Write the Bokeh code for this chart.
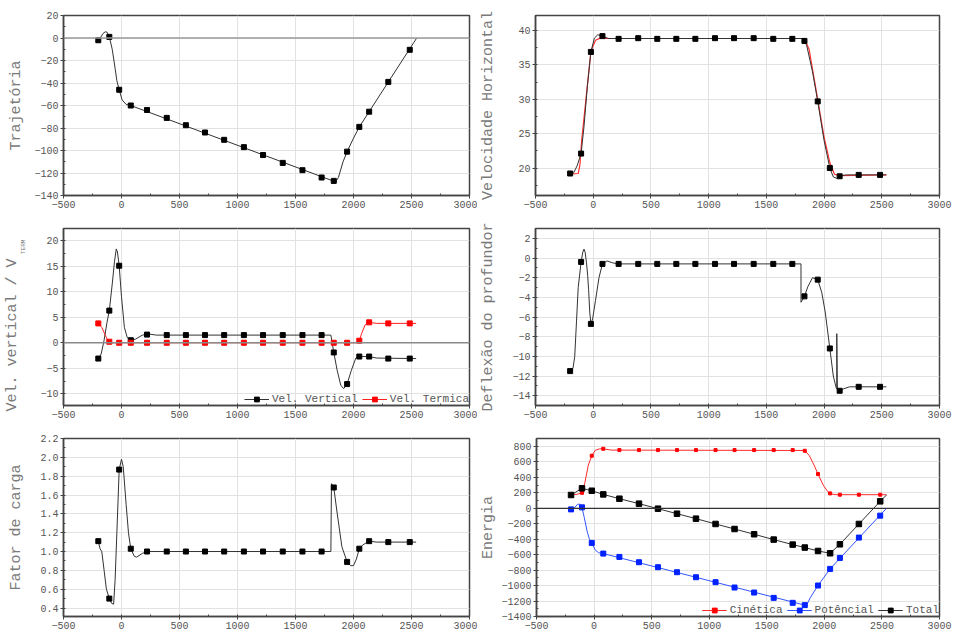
from bokeh.plotting import figure
from bokeh.models import (Range1d, SingleIntervalTicker, Span, LinearAxis,
                          FixedTicker, PrintfTickFormatter)
from bokeh.layouts import column, row
from bokeh.embed import file_html
from bokeh.resources import INLINE

FONT = "Liberation Mono"

# ---------------- data ----------------
x_pts = [-200, -105, -20, 80, 220, 390, 555, 720, 885, 1055, 1220, 1390,
         1560, 1725, 1830, 1945, 2050, 2135, 2300, 2485]

# Trajetoria
traj = [-2, 1, -46, -60, -64, -71, -77.5, -84, -90.5, -97, -104, -111,
        -117.5, -124, -127, -101, -79, -65.5, -39, -10.5]
traj_cx = [-200, -180, -160, -140, -125, -105, -80, -55, -40, -20, 5, 40, 80,
           1830, 1845, 1870, 1910, 1945, 2000, 2050, 2545]
traj_cy = [-2, 0.5, 4, 5.5, 5.2, 1, -10, -27, -38, -46, -55, -59, -60,
           -127.3, -128, -124, -110, -101, -89, -79, 0]

# Velocidade horizontal
velh = [19.2, 22.1, 36.9, 39.2, 38.8, 38.9, 38.8, 38.8, 38.8, 38.9, 38.9,
        38.9, 38.8, 38.8, 38.5, 29.7, 20.0, 18.8, 19.0, 19.0]
velh_cx = [-200, -170, -140, -105, -80, -50, -20, 10, 40, 80, 130, 1820, 1850,
           1900, 1945, 2000, 2050, 2080, 2110, 2140, 2200, 2540]
velh_cy = [19.2, 19.3, 20.3, 22.1, 26, 32, 36.9, 38.9, 39.4, 39.2, 38.85,
           38.85, 37.8, 34, 29.7, 24, 20, 18.7, 18.5, 18.9, 19.0, 19.0]
velh_red_cx = [-200, -130, -115, -100, -60, -20, 20, 60, 150, 1830, 1870,
               1950, 2000, 2050, 2090, 2130, 2540]
velh_red_cy = [19.1, 19.2, 20.5, 24, 30.5, 37, 38.6, 38.9, 38.85, 38.85, 37.3,
               29.5, 24.5, 20.8, 19.1, 18.9, 19.0]

# Velocidade vertical / termica
velv = [-3.1, 6.3, 15.1, 0.5, 1.6, 1.5, 1.5, 1.5, 1.5, 1.5, 1.5, 1.5, 1.5,
        1.5, -1.9, -8.1, -2.7, -2.7, -3.1, -3.1]
velv_cx = [-200, -175, -150, -125, -105, -80, -60, -45, -35, -20, 0, 25, 50,
           80, 120, 180, 240, 300, 1790, 1805, 1830, 1860, 1890, 1915, 1945,
           1980, 2020, 2050, 2135, 2200, 2540]
velv_cy = [-3.1, -2.2, 0.5, 4, 6.3, 11.5, 16, 18.4, 17.8, 15.1, 9, 3, 1, 0.5,
           0.7, 1.5, 1.7, 1.5, 1.5, 1.5, -1.9, -5.5, -8.3, -9.0, -8.1, -5.5,
           -3.0, -2.7, -2.7, -3.0, -3.1]
velt = [3.8, 0.2, 0, 0, 0, 0, 0, 0, 0, 0, 0, 0, 0, 0, 0, 0, 0.4, 4.0, 3.8, 3.8]
velt_cx = [-200, -170, -140, -120, -105, -80, 2020, 2050, 2070, 2100, 2135,
           2200, 2540]
velt_cy = [3.8, 3.0, 1.5, 0.5, 0.2, 0, 0, 0.4, 1.8, 3.5, 4.0, 3.8, 3.8]

# Deflexao do profundor
defl = [-11.5, -0.4, -6.7, -0.6, -0.6, -0.6, -0.6, -0.6, -0.6, -0.6, -0.6,
        -0.6, -0.6, -0.6, -3.9, -2.2, -9.2, -13.5, -13.1, -13.1]
defl_cx = [-200, -175, -160, -145, -130, -105, -90, -80, -70, -58, -48, -40,
           -30, -20, -5, 20, 50, 80, 120, 170, 220, 1800, 1800, 1830, 1860,
           1900, 1945, 1980, 2010, 2050, 2080, 2105, 2110, 2110, 2115, 2135,
           2170, 2220, 2300, 2540]
defl_cy = [-11.5, -11.2, -10, -6.5, -3, -0.4, 0.6, 0.9, 0.6, -0.5, -1.8, -3.2,
           -5.5, -6.7, -6.2, -4.3, -2.0, -0.6, -0.3, -0.5, -0.6, -0.6, -4.5,
           -3.9, -2.9, -2.0, -2.2, -3.5, -5.5, -9.2, -12, -13.2, -13.3, -7.7,
           -13.3, -13.5, -13.3, -13.1, -13.1, -13.1]

# Fator de carga
carga = [1.11, 0.50, 1.87, 1.03, 1.0, 1.0, 1.0, 1.0, 1.0, 1.0, 1.0, 1.0, 1.0,
         1.0, 1.68, 0.89, 1.03, 1.11, 1.10, 1.10]
carga_cx = [-200, -185, -170, -150, -130, -105, -85, -68, -55, -40, -20, 0,
            15, 40, 60, 80, 110, 130, 180, 220, 1805, 1810, 1830, 1860, 1900,
            1945, 1975, 2000, 2025, 2050, 2080, 2135, 2200, 2540]
carga_cy = [1.11, 1.03, 1.0, 0.8, 0.6, 0.5, 0.45, 0.44, 0.7, 1.2, 1.87, 1.98,
            1.9, 1.5, 1.2, 1.03, 0.95, 0.94, 0.98, 1.0, 1.0, 1.72, 1.68, 1.4,
            1.05, 0.89, 0.85, 0.85, 0.92, 1.03, 1.07, 1.11, 1.10, 1.10]

# Energia
cin = [176, 200, 680, 770, 753, 753, 753, 753, 753, 753, 753, 753, 753, 753,
       744, 443, 193, 176, 176, 176]
cin_cx = [-200, -150, -105, -80, -50, -20, 10, 50, 80, 150, 1830, 1870, 1910,
          1945, 1990, 2030, 2060, 2100, 2540]
cin_cy = [176, 180, 200, 330, 560, 680, 750, 770, 768, 753, 748, 680, 560,
          443, 300, 215, 185, 176, 176]
pot = [-14, 12, -448, -586, -629, -698, -762, -827, -892, -956, -1025, -1090,
       -1159, -1223, -1253, -999, -784, -642, -379, -95]
pot_cx = [-200, -170, -145, -125, -105, -85, -60, -40, -20, 10, 40, 80, 1830,
          1850, 1880, 1945, 2050, 2540]
pot_cy = [-14, 5, 50, 55, 12, -120, -300, -400, -448, -540, -575, -586,
          -1253, -1240, -1150, -999, -784, 0]
tot = [172, 258, 227, 180, 124, 60, -5, -70, -134, -203, -268, -336, -405,
       -470, -508, -552, -582, -466, -203, 90]
tot_end_x = [2540]
tot_end_y = [172]

# ---------------- helpers ----------------
TICK_COLOR = "#555555"
LABEL_COLOR = "#7a7a7a"
NBSP = "\u00a0"


def label_style(ax, text, size, standoff):
    ax.axis_label = text
    ax.axis_label_text_font = FONT
    ax.axis_label_text_font_size = size
    ax.axis_label_text_font_style = "normal"
    ax.axis_label_text_color = LABEL_COLOR
    ax.axis_label_standoff = standoff


def make_fig(width, height, left, right, top, bottom, ylo, yhi, yint,
             ylabel, standoff):
    p = figure(width=width, height=height, output_backend="svg",
               toolbar_location=None, x_range=Range1d(-500, 3000),
               y_range=Range1d(ylo, yhi),
               min_border_left=left, min_border_right=right,
               min_border_top=top, min_border_bottom=bottom)
    p.outline_line_color = "#444444"
    p.outline_line_width = 1.5
    p.xaxis.ticker = SingleIntervalTicker(interval=500, num_minor_ticks=2)
    p.yaxis.ticker = SingleIntervalTicker(interval=yint, num_minor_ticks=2)
    for ax in (p.xaxis, p.yaxis):
        ax.axis_line_color = "#444444"
        ax.axis_line_width = 1.5
        ax.major_tick_line_color = "#444444"
        ax.minor_tick_line_color = "#444444"
        ax.major_tick_out = 3
        ax.major_tick_in = 0
        ax.minor_tick_out = 0
        ax.minor_tick_in = 2
        ax.major_label_standoff = 2
        ax.major_label_text_font = FONT
        ax.major_label_text_font_size = "10px"
        ax.major_label_text_color = TICK_COLOR
    if ylabel:
        label_style(p.yaxis[0], ylabel, "15px", standoff)
    p.xgrid.grid_line_color = "#e2e2e2"
    p.ygrid.grid_line_color = "#e2e2e2"
    return p


def style_legend(p):
    lg = p.legend[0]
    lg.location = "bottom_right"
    lg.orientation = "horizontal"
    lg.background_fill_alpha = 0
    lg.border_line_alpha = 0
    lg.label_text_font = FONT
    lg.label_text_font_size = "11px"
    lg.label_text_color = "#555555"
    lg.glyph_width = 25
    lg.glyph_height = 12
    lg.label_height = 12
    lg.label_standoff = 3
    lg.spacing = 4
    lg.padding = 0
    lg.margin = 0


LW, RW = 477, 476
H1, H2, H3 = 215, 210, 208
MS = 5

# Panel 1: Trajetoria
p1 = make_fig(LW, H1, 63, 8, 15, 20, -140, 20, 20, "Trajetória", 6)
p1.add_layout(Span(location=0, dimension="width", line_color="#9a9a9a",
                   line_width=1.5))
p1.line(traj_cx, traj_cy, line_color="#333333", line_width=1)
p1.scatter(x_pts, traj, marker="square", size=MS, color="black")

# Panel 2: Velocidade horizontal
p2 = make_fig(RW, H1, 58, 14, 15, 20, 16, 42.2, 5, "Velocidade Horizontal", 18)
p2.line(velh_red_cx, velh_red_cy, line_color="#ff3030", line_width=1.2)
p2.line(velh_cx, velh_cy, line_color="#333333", line_width=1)
p2.scatter(x_pts, velh, marker="square", size=MS, color="black")

# Panel 3: Velocidade vertical
p3 = make_fig(LW, H2, 63, 8, 13, 20, -12.3, 22.4, 5, None, 0)
label_style(p3.yaxis[0], NBSP * 39 + "TERM", "6px", 10)
outer = LinearAxis(ticker=FixedTicker(ticks=[]), axis_line_color=None,
                   major_tick_line_color=None, minor_tick_line_color=None)
label_style(outer, "Vel. vertical / V" + NBSP * 4, "15px", -3)
p3.add_layout(outer, "left")
p3.add_layout(Span(location=0, dimension="width", line_color="#8a8a8a",
                   line_width=1.5))
p3.line(velv_cx, velv_cy, line_color="#333333", line_width=1,
        legend_label="Vel. Vertical")
p3.scatter(x_pts, velv, marker="square", size=MS, color="black",
           legend_label="Vel. Vertical")
p3.line(velt_cx, velt_cy, line_color="#ff2020", line_width=1,
        legend_label="Vel. Termica")
p3.scatter(x_pts, velt, marker="square", size=MS, color="#ff0000",
           legend_label="Vel. Termica")
style_legend(p3)

# Panel 4: Deflexao do profundor
p4 = make_fig(RW, H2, 58, 14, 13, 20, -15, 3, 2, "Deflexão do profundor", 12)
p4.line(defl_cx, defl_cy, line_color="#333333", line_width=1)
p4.scatter(x_pts, defl, marker="square", size=MS, color="black")

# Panel 5: Fator de carga
p5 = make_fig(LW, H3, 63, 8, 13, 17, 0.31, 2.2, 0.2, "Fator de carga", 12)
p5.yaxis[0].formatter = PrintfTickFormatter(format="%.1f")
p5.line(carga_cx, carga_cy, line_color="#333333", line_width=1)
p5.scatter(x_pts, carga, marker="square", size=MS, color="black")

# Panel 6: Energia
p6 = make_fig(RW, H3, 58, 14, 13, 17, -1400, 903, 200, "Energia", 1)
p6.add_layout(Span(location=0, dimension="width", line_color="#333333",
                   line_width=1.2))
p6.line(cin_cx, cin_cy, line_color="#ff2a2a", line_width=1,
        legend_label="Cinética")
p6.scatter(x_pts, cin, marker="square", size=3, color="#ff0000",
           legend_label="Cinética")
p6.line(pot_cx, pot_cy, line_color="#3355ff", line_width=1,
        legend_label="Potêncial")
p6.scatter(x_pts, pot, marker="square", size=MS, color="#0022ff",
           legend_label="Potêncial")
p6.line(x_pts + tot_end_x, tot + tot_end_y, line_color="#333333",
        line_width=1, legend_label="Total")
p6.scatter(x_pts, tot, marker="square", size=MS + 0.5, color="black",
           legend_label="Total")
style_legend(p6)

layout = column(row(p1, p2), row(p3, p4), row(p5, p6))

open("out.html", "w").write(file_html(layout, INLINE))
